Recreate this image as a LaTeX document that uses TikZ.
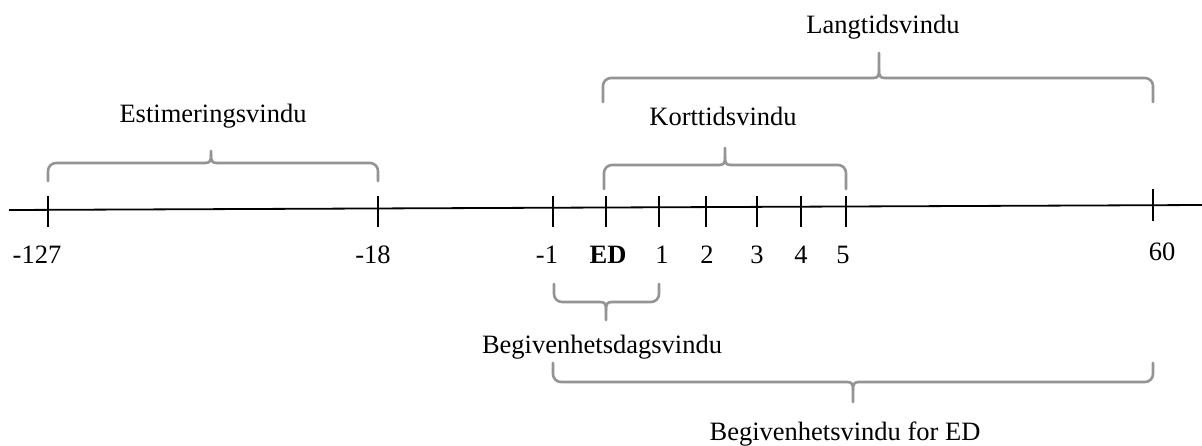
\documentclass[tikz,border=0pt]{standalone}
\usepackage{fontspec}
\setmainfont{Liberation Serif}
\tikzset{
  axisline/.style={black, line width=0.9pt},
  tickline/.style={black, line width=0.9pt},
  bracket/.style={draw=black!42, line width=1.3pt, line cap=round, line join=round},
  bracketend/.style={bracket, rounded corners=4pt},
  ticklabel/.style={anchor=base, inner sep=0pt, font=\fontsize{13.25}{16}\selectfont},
  winlabel/.style={anchor=base, inner sep=0pt, font=\fontsize{13.25}{16}\selectfont},
}
% up-pointing brace: x1,x2,ybottom,yhoriz,xtip,ytop
\newcommand{\upbracket}[6]{%
  \draw[bracketend] (#1,#3) -- (#1,#4) -- ({#5-6},#4);
  \draw[bracketend] (#2,#3) -- (#2,#4) -- ({#5+6},#4);
  \draw[bracket] ({#5-6},#4) .. controls ({#5-1},#4) and (#5,{#4-2}) .. (#5,{#4-8}) -- (#5,#6);
  \draw[bracket] ({#5+6},#4) .. controls ({#5+1},#4) and (#5,{#4-2}) .. (#5,{#4-8});
}
% down-pointing brace: x1,x2,ytop,yhoriz,xtip,ytip
\newcommand{\downbracket}[6]{%
  \draw[bracketend] (#1,#3) -- (#1,#4) -- ({#5-6},#4);
  \draw[bracketend] (#2,#3) -- (#2,#4) -- ({#5+6},#4);
  \draw[bracket] ({#5-6},#4) .. controls ({#5-1},#4) and (#5,{#4+2}) .. (#5,{#4+8}) -- (#5,#6);
  \draw[bracket] ({#5+6},#4) .. controls ({#5+1},#4) and (#5,{#4+2}) .. (#5,{#4+8});
}
\begin{document}
\begin{tikzpicture}[x=0.5pt,y=-0.5pt]
\useasboundingbox (0,0) rectangle (1202,445);
% axis
\coordinate (axL) at (9,210);
\coordinate (axR) at (1202,205);
\draw[axisline] (axL) -- (axR);
% ticks
\foreach \n/\x in {m127/48, m18/378, m1/553, ed/606, p1/659, p2/706, p3/757, p4/801, p5/846} {
  \coordinate (t\n top) at (\x,196);
  \coordinate (t\n bot) at (\x,227);
  \draw[tickline] (t\n top) -- (t\n bot);
}
\coordinate (tp60top) at (1153,189);
\coordinate (tp60bot) at (1153,221);
\draw[tickline] (tp60top) -- (tp60bot);
% tick labels
\node[ticklabel] (lm127) at (37,263) {-127};
\node[ticklabel] (lm18) at (373,263) {-18};
\node[ticklabel] (lm1) at (547,263) {-1};
\node[ticklabel] (led) at (608,263) {\textbf{ED}};
\node[ticklabel] (lp1) at (662,263) {1};
\node[ticklabel] (lp2) at (707,263) {2};
\node[ticklabel] (lp3) at (757,263) {3};
\node[ticklabel] (lp4) at (801,263) {4};
\node[ticklabel] (lp5) at (843,263) {5};
\node[ticklabel] (lp60) at (1162,260) {60};
% braces
\upbracket{48}{378}{181}{163}{211}{151}
\upbracket{604}{846}{189}{165}{725}{148}
\upbracket{603}{1153}{102}{78}{879}{53}
\downbracket{554}{659}{284}{302}{606}{320}
\downbracket{553}{1153}{363}{382}{853}{402}
% window labels
\node[winlabel] (est) at (213,122) {Estimeringsvindu};
\node[winlabel] (kort) at (723,125) {Korttidsvindu};
\node[winlabel] (lang) at (883,33) {Langtidsvindu};
\node[winlabel] (dags) at (602,353) {Begivenhetsdagsvindu};
\node[winlabel] (bved) at (845,440) {Begivenhetsvindu for ED};
\end{tikzpicture}
\end{document}
